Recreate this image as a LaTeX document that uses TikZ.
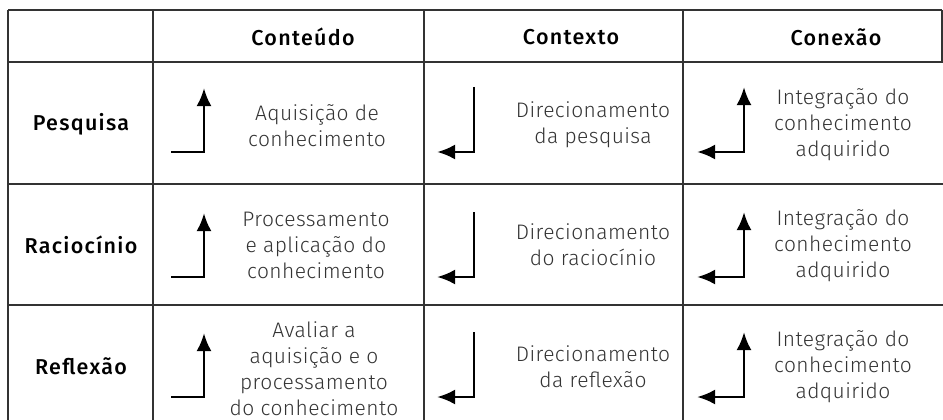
\documentclass[tikz,border=0pt]{standalone}
\usepackage{fontspec}
\setmainfont{Fira Sans}[UprightFont=* Light, BoldFont=* Medium,
    UprightFeatures={LetterSpace=2}, BoldFeatures={LetterSpace=6}]
\usetikzlibrary{arrows.meta}

\tikzset{
    rule/.style={line width=1.4pt, draw=black!80},
    head/.style={font=\bfseries\fontsize{21.5}{25}\selectfont, text=black},
    cell/.style={align=center, text=black!80, font=\fontsize{21}{26}\selectfont},
    flow/.style={line width=2.8pt, -{Latex[length=18pt,width=15pt]}},
    twoway/.style={line width=2.8pt, {Latex[length=18pt,width=15pt]}-{Latex[length=18pt,width=15pt]}},
}

\begin{document}
\begin{tikzpicture}[x=1pt, y=-1pt]
            \useasboundingbox (0, 0) rectangle (943, 420);

            % table rules
            \draw[rule] (8, 10) -- (942, 10);
            \draw[rule] (8, 62) -- (943, 62);
            \draw[rule] (8, 184) -- (943, 184);
            \draw[rule] (8, 305) -- (943, 305);
            \draw[rule] (8, 10) -- (8, 430);
            \draw[rule] (153, 10) -- (153, 430);
            \draw[rule] (424, 10) -- (424, 430);
            \draw[rule] (683, 10) -- (683, 430);
            \draw[rule] (942, 10) -- (942, 62);

            \node[head] (hcont) at (303, 37) {Conteúdo};
            \node[head] (hctx) at (571, 37) {Contexto};
            \node[head] (hcon) at (836, 37) {Conexão};

            \node[head] (rpes) at (81, 124) {Pesquisa};
            \node[head] (rrac) at (81, 245) {Raciocínio};
            \node[head] (rref) at (81, 366) {Reflexão};

            \node[cell] (pes1) at (317, 126) {Aquisição de\\conhecimento};
            \node[cell] (pes2) at (593, 125) {Direcionamento\\da pesquisa};
            \node[cell] (pes3) at (843, 125) {Integração do\\conhecimento\\adquirido};

            \node[cell] (rac1) at (316, 245) {Processamento\\e aplicação do\\conhecimento};
            \node[cell] (rac2) at (593, 245) {Direcionamento\\do raciocínio};
            \node[cell] (rac3) at (843, 246) {Integração do\\conhecimento\\adquirido};

            \node[cell] (ref1) at (314, 369) {Avaliar a\\aquisição e o\\processamento\\do conhecimento};
            \node[cell] (ref2) at (593, 367) {Direcionamento\\da reflexão};
            \node[cell] (ref3) at (843, 367) {Integração do\\conhecimento\\adquirido};

            % arrows, one set per row
            \foreach \r/\b in {1/152, 2/277, 3/397} {
                \coordinate (cs\r) at (171, \b);
                \coordinate (ct\r) at (204, \b-64);
                \draw[flow] (cs\r) -| (ct\r);

                \coordinate (xs\r) at (474, \b-65);
                \coordinate (xt\r) at (437, \b);
                \draw[flow] (xs\r) |- (xt\r);

                \coordinate (nu\r) at (744, \b-65);
                \coordinate (nl\r) at (697, \b);
                \draw[twoway] (nu\r) |- (nl\r);
            }
\end{tikzpicture}
\end{document}
